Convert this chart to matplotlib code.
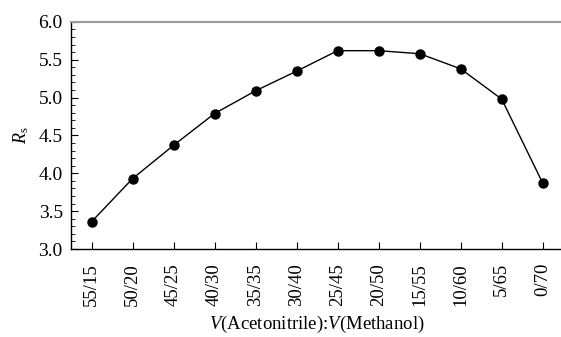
import numpy as np
import matplotlib.pyplot as plt
from matplotlib.ticker import MultipleLocator

# --- DATA ---
ratios = ['55/15', '50/20', '45/25', '40/30', '35/35', '30/40',
          '25/45', '20/50', '15/55', '10/60', '5/65', '0/70']
rs = [3.36, 3.93, 4.37, 4.79, 5.09, 5.35, 5.62, 5.62, 5.58, 5.38, 4.98, 3.87]

plt.rcParams['font.family'] = ['Liberation Serif', 'DejaVu Serif']
plt.rcParams['mathtext.fontset'] = 'custom'
plt.rcParams['mathtext.rm'] = 'Liberation Serif'
plt.rcParams['mathtext.it'] = 'Liberation Serif:italic'

fig = plt.figure(figsize=(5.61, 3.37), dpi=100)
ax = fig.add_axes([0.1266, 0.261, 0.8734 + 0.004, 0.674])

x = np.arange(len(ratios))
ax.plot(x, rs, '-o', color='black', linewidth=1.0, markersize=6.5)

ax.set_xlim(-0.5, 11.5)
ax.set_ylim(3.0, 6.0)
ax.set_xticks(x)
ax.set_xticklabels(ratios, rotation=90, fontsize=13.5)
ax.yaxis.set_major_locator(MultipleLocator(0.5))
ax.yaxis.set_minor_locator(MultipleLocator(0.1))
ax.yaxis.set_major_formatter(plt.FormatStrFormatter('%.1f'))
ax.tick_params(axis='y', which='major', direction='in', length=5, labelsize=14, pad=6)
ax.tick_params(axis='y', which='minor', direction='in', length=3)
ax.tick_params(axis='x', which='major', direction='in', length=5, pad=10)

ax.spines['right'].set_visible(False)
ax.spines['top'].set_color('#999999')
ax.spines['top'].set_linewidth(1.5)
ax.spines['left'].set_linewidth(1.0)
ax.spines['bottom'].set_linewidth(1.0)

ax.set_ylabel(r'$R_{\mathrm{s}}$', fontsize=13, labelpad=5)
ax.set_xlabel(r'$V$(Acetonitrile):$V$(Methanol)', fontsize=13.5, labelpad=6)

fig.savefig('out.png', dpi=100)
